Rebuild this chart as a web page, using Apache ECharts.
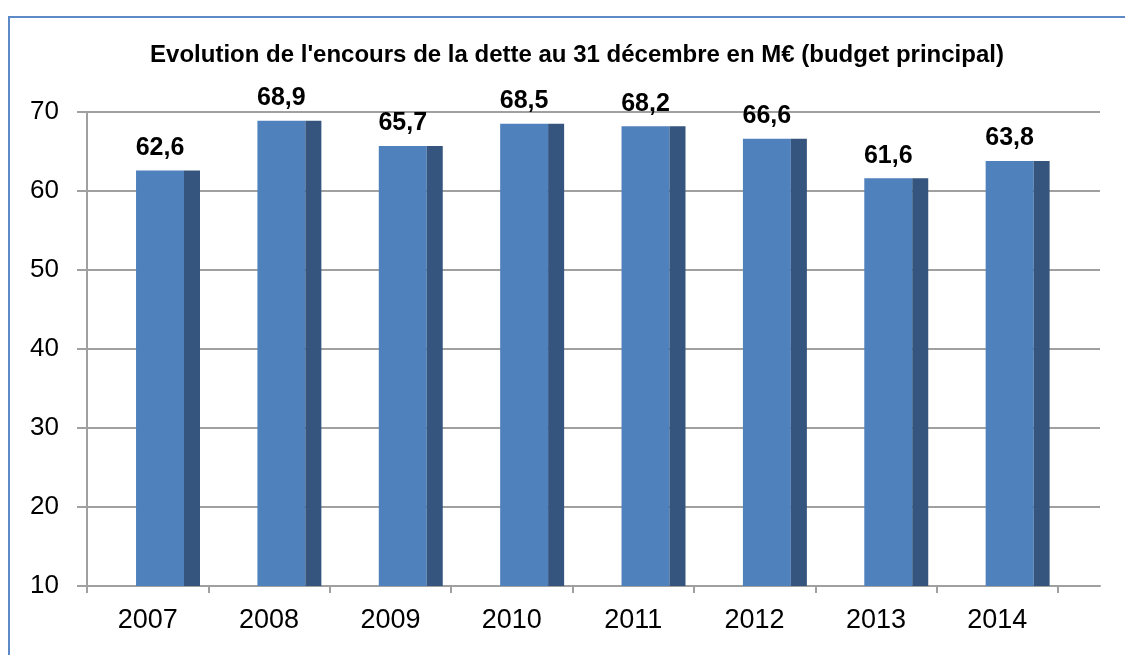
<!DOCTYPE html>
<html>
<head>
<meta charset="utf-8">
<script src="https://cdn.jsdelivr.net/npm/echarts@6/dist/echarts.min.js"></script>
<style>
    html, body { margin: 0; padding: 0; background: #fff; }
    #chart { width: 1125px; height: 655px; }
</style>
</head>
<body>
<div id="chart"></div>
<script>
(function () {
    'use strict';

    // données
    var years = ['2007', '2008', '2009', '2010', '2011', '2012', '2013', '2014'];
    var encours = [62.6, 68.9, 65.7, 68.5, 68.2, 66.6, 61.6, 63.8];
    var yTicks = [10, 20, 30, 40, 50, 60, 70];
    var titre = "Evolution de l'encours de la dette au 31 décembre en M€ (budget principal)";

    var gris = '#a0a0a0';
    var face = '#4f81bd';
    var cote = '#35557f';

    var myChart = echarts.init(document.getElementById('chart'));

    //colonne "3D" : face avant + côté sombre décalés comme dans Excel
    function renderBar(params, api) {
        var idx = api.value(0);
        var val = api.value(1);
        var top = api.coord([idx, val]);
        var base = api.coord([idx, yTicks[0]]);
        var w = api.size([1, 0])[0];
        var x0 = top[0] - w * 0.096;
        var x1 = top[0] + w * 0.299;
        var x2 = top[0] + w * 0.431;
        return {
            type: 'group',
            children: [{
                type: 'rect',
                shape: { x: x0, y: top[1], width: x1 - x0, height: base[1] - top[1] },
                style: { fill: face }
            }, {
                type: 'rect',
                shape: { x: x1, y: top[1], width: x2 - x1, height: base[1] - top[1] },
                style: { fill: cote }
            }, {
                type: 'text',
                x: (x0 + x1) / 2,
                y: top[1] - 10,
                style: {
                    text: String(val).replace('.', ','),
                    fill: '#000',
                    font: 'bold 25px "Liberation Sans", Arial, sans-serif',
                    textAlign: 'center',
                    textVerticalAlign: 'bottom'
                }
            }]
        };
    }

    var data = [];
    for (var i = 0; i < encours.length; i++) {
        data.push([i, encours[i]]);
    }

    var option = {
        animation: false,
        backgroundColor: '#fff',
        title: {
            text: titre,
            left: 572,
            top: 38,
            textAlign: 'center',
            textStyle: {
                fontFamily: '"Liberation Sans", Arial, sans-serif',
                fontWeight: 'bold',
                fontSize: 24,
                color: '#000'
            }
        },
        graphic: [{
            type: 'rect',
            shape: { x: 9, y: 17, width: 1300, height: 800 },
            style: { fill: null, stroke: '#5b8ac6', lineWidth: 2 },
            silent: true
        }],
        grid: [
            { left: 87, right: 67, top: 112, bottom: 69 },
            { left: 87, right: 25, top: 112, bottom: 69 }
        ],
        xAxis: [{
            type: 'category',
            gridIndex: 0,
            data: years,
            axisLine: { lineStyle: { color: gris, width: 2 } },
            axisTick: { show: true, length: 7, lineStyle: { color: gris, width: 2 } },
            axisLabel: {
                color: '#000',
                fontSize: 27,
                fontFamily: '"Liberation Sans", Arial, sans-serif',
                margin: 21
            },
            splitLine: { show: false }
        }, {
            type: 'value',
            gridIndex: 1,
            min: 0,
            max: 1,
            axisLine: { show: true, lineStyle: { color: gris, width: 2 } },
            axisTick: { show: false },
            axisLabel: { show: false },
            splitLine: { show: false }
        }],
        yAxis: [{
            type: 'value',
            gridIndex: 0,
            min: 10,
            max: 70,
            interval: 10,
            axisLine: { show: true, lineStyle: { color: gris, width: 2 } },
            axisTick: { show: true, length: 10, lineStyle: { color: gris, width: 2 } },
            axisLabel: {
                color: '#000',
                fontSize: 26,
                fontFamily: '"Liberation Sans", Arial, sans-serif',
                margin: 28
            },
            splitLine: { show: false }
        }, {
            type: 'value',
            gridIndex: 1,
            min: 10,
            max: 70,
            interval: 10,
            axisLine: { show: false },
            axisTick: { show: false },
            axisLabel: { show: false },
            splitLine: { show: true, lineStyle: { color: gris, width: 2 } }
        }],
        series: [{
            type: 'custom',
            xAxisIndex: 0,
            yAxisIndex: 0,
            renderItem: renderBar,
            encode: { x: 0, y: 1 },
            data: data,
            z: 5
        }]
    };

    myChart.setOption(option);
})();
</script>
</body>
</html>
